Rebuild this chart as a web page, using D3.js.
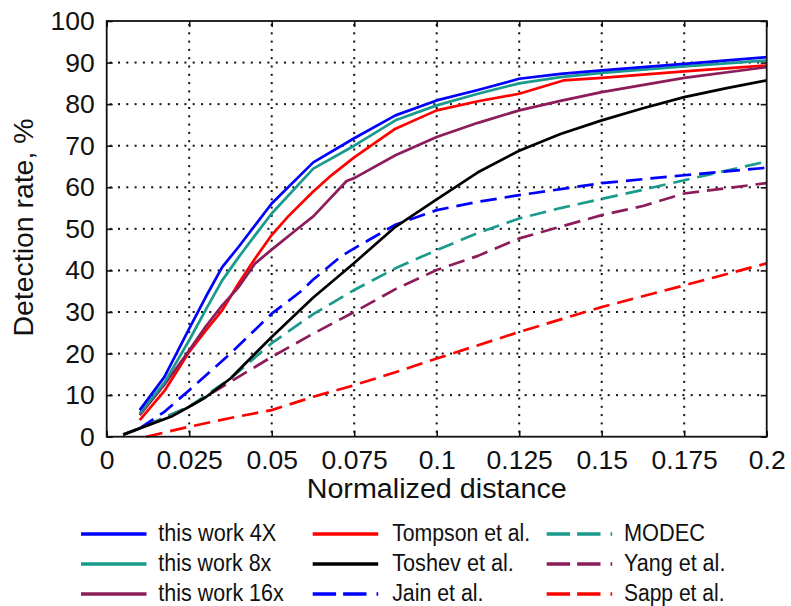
<!DOCTYPE html>
<html><head><meta charset="utf-8">
<script src="https://cdn.jsdelivr.net/npm/d3@7"></script>
<style>
body{margin:0;background:#fff;}
text{font-family:"Liberation Sans",Arial,Helvetica,sans-serif;fill:#111;}
</style></head>
<body><svg id="c" width="791" height="606"></svg>
<script>
// ---- data ----
const xTicks = [0, 0.025, 0.05, 0.075, 0.1, 0.125, 0.15, 0.175, 0.2];
const xTickLabels = ["0","0.025","0.05","0.075","0.1","0.125","0.15","0.175","0.2"];
const yTicks = [0,10,20,30,40,50,60,70,80,90,100];
const xTitle = "Normalized distance";
const yTitle = "Detection rate, %";

const work4X = [[0.01,6.4],[0.0175,14.4],[0.025,26],[0.03,33.6],[0.035,40.8],[0.04,45.7],[0.045,50.9],[0.05,56.1],[0.0626,66],[0.075,71.8],[0.0875,77.3],[0.1,80.9],[0.1125,83.4],[0.125,86.1],[0.1375,87.3],[0.15,88.1],[0.175,89.7],[0.2,91.3]];
const work8x = [[0.01,5.6],[0.0175,13],[0.025,23.2],[0.03,30.5],[0.035,37.6],[0.04,43.2],[0.045,48.5],[0.05,53.7],[0.0626,64.5],[0.075,70],[0.0875,76.1],[0.1,79.7],[0.1125,82.5],[0.125,85],[0.1375,86.5],[0.15,87.5],[0.175,89.1],[0.2,90.5]];
const work16x = [[0.01,5.2],[0.0175,12.5],[0.025,20.8],[0.03,26.5],[0.035,31.6],[0.04,36],[0.045,41.7],[0.05,45],[0.0586,50.5],[0.0626,53],[0.0727,61.5],[0.075,62.2],[0.0875,67.7],[0.1,72.1],[0.1125,75.5],[0.125,78.5],[0.1375,80.8],[0.15,82.9],[0.175,86.3],[0.2,88.9]];
const tompson = [[0.01,4],[0.0175,11],[0.025,20.4],[0.03,25.5],[0.035,30.4],[0.04,36.9],[0.045,42.9],[0.05,48.5],[0.055,53],[0.0626,59],[0.0675,62.5],[0.075,67.2],[0.0875,74.1],[0.1,78.5],[0.1125,80.7],[0.125,82.5],[0.1384,85.7],[0.15,86.3],[0.175,87.9],[0.2,89.3]];
const toshev = [[0.005,0.5],[0.01,2],[0.02,5],[0.025,7.2],[0.03,9.5],[0.0375,14],[0.045,20],[0.05,24],[0.0626,33.5],[0.075,41.8],[0.0875,50.5],[0.1,57.1],[0.1125,63.6],[0.125,68.8],[0.1375,72.8],[0.15,76.1],[0.1625,79],[0.175,81.7],[0.1875,83.8],[0.2,85.7]];
const jain = [[0.01,2],[0.0175,6],[0.025,11.2],[0.0375,20],[0.05,29.6],[0.0586,34.8],[0.0626,37.8],[0.0707,43.2],[0.075,45.3],[0.0875,51],[0.1,54.5],[0.1125,56.5],[0.125,58.1],[0.15,61],[0.175,62.9],[0.2,64.7]];
const modec = [[0.005,0.5],[0.01,2],[0.025,7.2],[0.0375,14],[0.05,22.5],[0.0626,29.5],[0.075,35.3],[0.0875,40.5],[0.1,44.9],[0.1125,49],[0.125,52.5],[0.1375,55],[0.15,57.2],[0.1625,59.4],[0.175,61.7],[0.2,66.2]];
const yang = [[0.005,0.5],[0.01,2],[0.025,7.2],[0.0375,13.2],[0.05,19.2],[0.0626,24.8],[0.075,30],[0.0875,35.5],[0.1,40.1],[0.1125,43.5],[0.125,47.7],[0.1375,50.5],[0.15,53.3],[0.1625,55.5],[0.175,58.5],[0.2,61]];
const sapp = [[0.012,0],[0.025,2.4],[0.0375,4.5],[0.05,6.4],[0.0626,9.6],[0.075,12.4],[0.0875,15.5],[0.1,18.8],[0.125,25.2],[0.15,31.2],[0.175,36.4],[0.2,41.7]];

const seriesNames = ["this work 4X","this work 8x","this work 16x","Tompson et al.","Toshev et al.","Jain et al.","MODEC","Yang et al.","Sapp et al."];
const seriesData = [work4X, work8x, work16x, tompson, toshev, jain, modec, yang, sapp];
const seriesColors = ["#0000ff","#1a9a8c","#8c1c5a","#ff0000","#000000","#0000ff","#1a9a8c","#8c1c5a","#ff0000"];
const seriesDashed = [false,false,false,false,false,true,true,true,true];

// ---- layout ----
const L=106.7, R=766.7, T=21, B=436.7;
const svg = d3.select("#c");
const x = d3.scaleLinear().domain([0,0.2]).range([L,R]);
const y = d3.scaleLinear().domain([0,100]).range([B,T]);

// dotted grid drawn as small squares
const dotStep = 8.3;
const grid = svg.append("g").attr("fill","#111");
xTicks.slice(1,-1).forEach(v=>{
  const px = x(v);
  grid.selectAll(null).data(d3.range(T+4, B-2, dotStep)).join("rect")
    .attr("x",px-1).attr("y",d=>d-1).attr("width",2).attr("height",2);
});
yTicks.slice(1,-1).forEach(v=>{
  const py = y(v);
  grid.selectAll(null).data(d3.range(L+4, R-2, dotStep)).join("rect")
    .attr("x",d=>d-1).attr("y",py-1).attr("width",2).attr("height",2);
});

// axes with inward ticks
const fmt = (d)=>xTickLabels[xTicks.indexOf(d)];
const axB = svg.append("g").attr("transform",`translate(0,${B})`)
  .call(d3.axisBottom(x).tickValues(xTicks).tickFormat(fmt).tickSizeInner(-6).tickSizeOuter(0).tickPadding(13));
const axT = svg.append("g").attr("transform",`translate(0,${T})`)
  .call(d3.axisTop(x).tickValues(xTicks).tickFormat("").tickSizeInner(-6).tickSizeOuter(0));
const axL = svg.append("g").attr("transform",`translate(${L},0)`)
  .call(d3.axisLeft(y).tickValues(yTicks).tickFormat(d3.format("d")).tickSizeInner(-6).tickSizeOuter(0).tickPadding(12));
const axR = svg.append("g").attr("transform",`translate(${R},0)`)
  .call(d3.axisRight(y).tickValues(yTicks).tickFormat("").tickSizeInner(-6).tickSizeOuter(0));
[axB,axT,axL,axR].forEach(a=>{
  a.select(".domain").remove();
  a.selectAll(".tick line").attr("stroke","#111").attr("stroke-width",1.6);
  a.selectAll("text").style("font-size","26.5px").attr("fill","#111")
   .style("font-family","'Liberation Sans',Arial,sans-serif");
});

// series
const line = d3.line().x(d=>x(d[0])).y(d=>y(d[1]));
const order = [8,7,6,5,4,3,2,1,0];
order.forEach(i=>{
  svg.append("path").datum(seriesData[i]).attr("d",line)
    .attr("fill","none").attr("stroke",seriesColors[i]).attr("stroke-width",2.7)
    .attr("stroke-linejoin","round")
    .attr("stroke-dasharray",seriesDashed[i]?"16.5,8":null);
});

// frame
svg.append("rect").attr("x",L).attr("y",T).attr("width",R-L).attr("height",B-T)
  .attr("fill","none").attr("stroke","#111").attr("stroke-width",1.8);

// titles
svg.append("text").attr("x",(L+R)/2).attr("y",498).attr("text-anchor","middle")
  .style("font-size","27px").attr("textLength",260).attr("lengthAdjust","spacingAndGlyphs").text(xTitle);
svg.append("text").attr("transform",`translate(33,${227.5}) rotate(-90)`).attr("text-anchor","middle")
  .style("font-size","27px").attr("textLength",218).attr("lengthAdjust","spacingAndGlyphs").text(yTitle);

// legend
const legX = [81,312.7,546.7];
const legTextX = [158.3,392.2,623.9];
const legY = [534,564,594];
const legW = [118,113,125.5,138,121.7,91.3,81,101.5,100.6];
seriesNames.forEach((n,i)=>{
  const col = Math.floor(i/3), row = i%3;
  svg.append("line").attr("x1",legX[col]).attr("x2",legX[col]+65.5)
    .attr("y1",legY[row]).attr("y2",legY[row])
    .attr("stroke",seriesColors[i]).attr("stroke-width",3.3)
    .attr("stroke-dasharray",seriesDashed[i]?"23.4,7,23.4,10,1.7,50":null);
  svg.append("text").attr("x",legTextX[col]).attr("y",legY[row]+6.5)
    .style("font-size","23px").attr("textLength",legW[i]).attr("lengthAdjust","spacingAndGlyphs")
    .text(n);
});
</script></body></html>
